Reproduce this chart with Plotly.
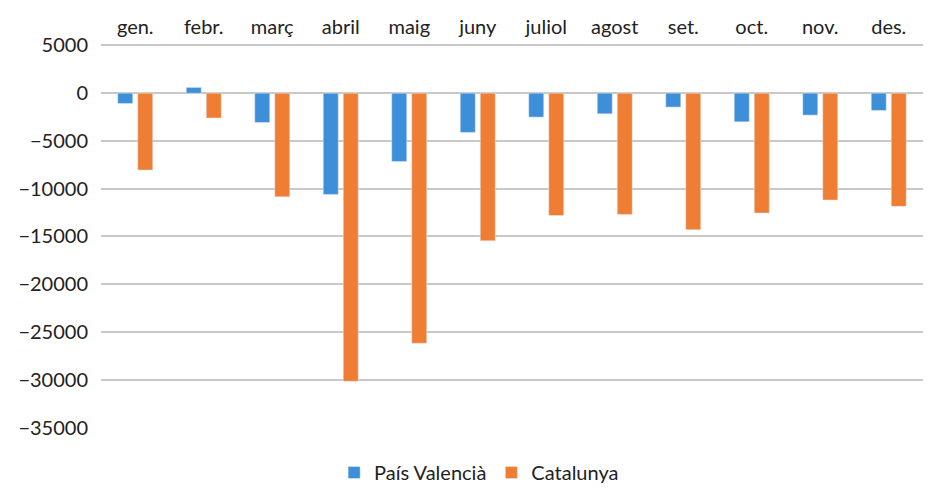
import plotly.graph_objects as go

months = ["gen.", "febr.", "març", "abril", "maig", "juny", "juliol", "agost", "set.", "oct.", "nov.", "des."]
pais_valencia = [-1080, 600, -3070, -10600, -7150, -4110, -2510, -2160, -1460, -3000, -2300, -1810]
catalunya = [-8050, -2600, -10850, -30160, -26180, -15450, -12800, -12690, -14300, -12550, -11190, -11850]
y_ticks = [5000, 0, -5000, -10000, -15000, -20000, -25000, -30000, -35000]
y_tick_text = ["5000", "0", "−5000", "−10000", "−15000", "−20000", "−25000", "−30000", "−35000"]

font = "Lato, 'Open Sans', sans-serif"

fig = go.Figure()
fig.add_trace(go.Bar(x=months, y=pais_valencia, name="País Valencià", marker_color="#3C8FD8"))
fig.add_trace(go.Bar(x=months, y=catalunya, name="Catalunya", marker_color="#EF7D33"))

fig.update_layout(
    width=947, height=497,
    margin=dict(l=93, r=32, t=35, b=77),
    paper_bgcolor="white", plot_bgcolor="white",
    barmode="group", bargap=0.416, bargroupgap=0.25,
    font=dict(family=font, size=20, color="#222222"),
    legend=dict(orientation="h", x=0.46, xanchor="center", y=-0.065, yanchor="top",
                font=dict(size=20), itemwidth=30, traceorder="normal"),
    xaxis=dict(side="top", showgrid=False, showline=False, ticks="", tickfont=dict(size=20),
               automargin=False, ticklabelstandoff=4),
    yaxis=dict(range=[-35050, 5250], tickvals=y_ticks, ticktext=y_tick_text, showgrid=True,
               gridcolor="#C8C8C8", gridwidth=1.5, zeroline=True, zerolinecolor="#C8C8C8",
               zerolinewidth=1.5, tickfont=dict(size=20), ticks="", ticklabelstandoff=12,
               automargin=False),
)

fig.write_html("out.html")
